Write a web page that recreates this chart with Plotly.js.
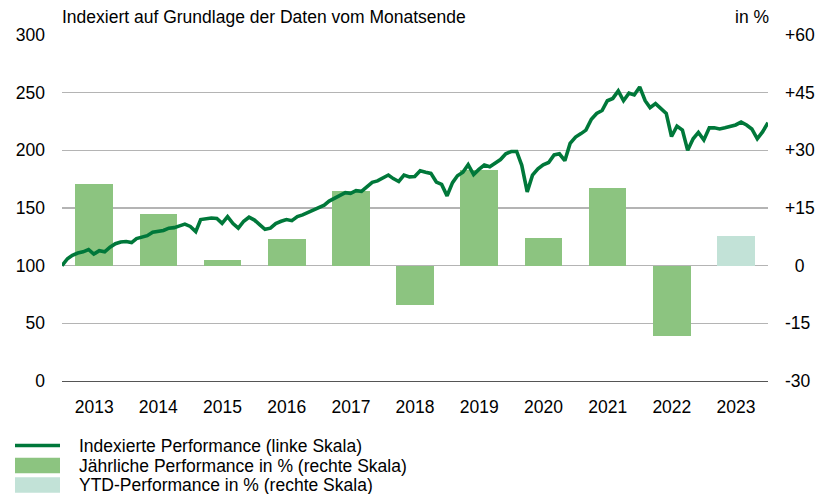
<!DOCTYPE html>
<html>
<head>
<meta charset="utf-8">
<script src="https://cdn.plot.ly/plotly-3.0.1.min.js"></script>
<style>html,body{margin:0;padding:0;background:#fff;} #chart{width:821px;height:494px;}</style>
</head>
<body>
<div id="chart"></div>
<script>
// ---------- DATA ----------
const years = ['2013','2014','2015','2016','2017','2018','2019','2020','2021','2022','2023'];
const annualPerf = [21.2, 13.4, 1.5, 6.9, 19.4, -10.2, 24.9, 7.2, 20.2, -18.3, null]; // % (right scale)
const ytdPerf    = [null, null, null, null, null, null, null, null, null, null, 7.7];  // % (right scale)
// month-end index values from Dec 2012 to Dec 2023 (left scale)
const indexed = [
  100, 106, 109, 111, 112, 114, 110, 113, 112, 116, 119, 120.5, 121,
  120, 123.5, 124.5, 126, 129, 129.5, 130.5, 132.5, 133, 134.5, 136, 134,
  129.5, 140, 141, 141.3, 141, 136.7, 142.5, 136.5, 132.5, 138.5, 142, 139.5,
  135.3, 131.5, 132.5, 136.5, 138.5, 140, 139, 142.5, 144, 146, 148.5, 150.5,
  152.5, 156, 158.5, 161.5, 163.3, 162.7, 165, 164.5, 168.5, 172.3, 173.5, 175.7,
  178.6, 175.5, 173, 178.5, 177, 177.3, 182.3, 181, 180, 172.5, 170.5, 160.5,
  172, 178, 181, 187.5, 179, 183.5, 187.3, 185.8, 189, 192, 197, 199,
  199, 187, 164, 178.5, 184, 187.5, 189.5, 196, 197, 191, 206, 211.5,
  214.5, 217.5, 227, 232, 234.5, 243, 245, 251.5, 243, 249.5, 248, 255,
  243, 237, 240.5, 236, 232, 212, 221, 217.5, 200, 210, 215.5, 209,
  219.5, 219.5, 218.5, 219.5, 220.5, 222, 224.5, 222, 218.5, 210, 216, 224
];
const leftTicks  = [0, 50, 100, 150, 200, 250, 300];
const rightTicks = [-30, -15, 0, 15, 30, 45, 60];
const rightTickText = ['-30', '-15', '\u20070', '+15', '+30', '+45', '+60'];
const legendLabels = ['Indexierte Performance (linke Skala)', 'Jährliche Performance in % (rechte Skala)', 'YTD-Performance in % (rechte Skala)'];
const titleText = 'Indexiert auf Grundlage der Daten vom Monatsende';
const unitText = 'in %';

// ---------- DERIVED X POSITIONS ----------
const monthDates = indexed.map((v, k) => Date.UTC(2013, k, 0));
const yearMid = years.map(y => Date.UTC(+y, 6, 2));
const yearMs = 365.25 * 864e5;

// ---------- STYLE ----------
const FONT = 'Liberation Sans, Arial, sans-serif';
const FS = 17.5;
const cLine = '#00783A', cBar = '#8CC480', cYtd = '#C2E2D7', cGrid = '#B4B4B4';
const W = 821, H = 494, ML = 62, MR = 53, MT = 35, MB = 113;
const PW = W - ML - MR, PH = H - MT - MB;
const px = x => (x - ML) / PW;
const py = y => (H - MB - y) / PH;

const traces = [
  { type: 'bar', x: yearMid, y: annualPerf, width: yearMid.map(() => 0.585 * yearMs),
    marker: { color: cBar, line: { width: 0 } }, yaxis: 'y', showlegend: false, hoverinfo: 'y' },
  { type: 'bar', x: yearMid, y: ytdPerf, width: yearMid.map(() => 0.585 * yearMs),
    marker: { color: cYtd, line: { width: 0 } }, yaxis: 'y', showlegend: false, hoverinfo: 'y' },
  { type: 'scatter', mode: 'lines', x: monthDates, y: indexed, yaxis: 'y2',
    line: { color: cLine, width: 3.6, shape: 'linear' }, showlegend: false, cliponaxis: false }
];

// custom legend
const rows = [445.5, 465.5, 485];
const shapes = [
  { type: 'line', xref: 'paper', yref: 'paper', x0: px(15), x1: px(60), y0: py(rows[0]), y1: py(rows[0]),
    line: { color: cLine, width: 3.6 } },
  { type: 'rect', xref: 'paper', yref: 'paper', x0: px(15), x1: px(60), y0: py(rows[1] - 7.8), y1: py(rows[1] + 7.8),
    fillcolor: cBar, line: { width: 0 } },
  { type: 'rect', xref: 'paper', yref: 'paper', x0: px(15), x1: px(60), y0: py(rows[2] - 7.8), y1: py(rows[2] + 7.8),
    fillcolor: cYtd, line: { width: 0 } }
];
const annotations = legendLabels.map((t, i) => ({
  text: t, xref: 'paper', yref: 'paper', x: px(77), y: py(rows[i]), xanchor: 'left', yanchor: 'middle',
  showarrow: false, font: { family: FONT, size: FS, color: '#000' }
}));
annotations.push({ text: titleText, xref: 'paper', yref: 'paper', x: px(60), y: py(17), xanchor: 'left', yanchor: 'middle',
  showarrow: false, font: { family: FONT, size: FS, color: '#000' } });
annotations.push({ text: unitText, xref: 'paper', yref: 'paper', x: px(771), y: py(17), xanchor: 'right', yanchor: 'middle',
  showarrow: false, font: { family: FONT, size: FS, color: '#000' } });

const layout = {
  width: W, height: H,
  margin: { l: ML, r: MR, t: MT, b: MB, pad: 0 },
  paper_bgcolor: '#fff', plot_bgcolor: '#fff',
  font: { family: FONT, size: FS, color: '#000' },
  showlegend: false,
  barmode: 'overlay',
  bargap: 0,
  xaxis: {
    type: 'date',
    range: [Date.UTC(2012, 11, 31), Date.UTC(2023, 11, 31)],
    tickmode: 'array', tickvals: yearMid, ticktext: years,
    showgrid: false, zeroline: false, ticks: '',
    showline: true, linecolor: '#555555', linewidth: 1.2,
    ticklabelstandoff: 10,
    tickfont: { family: FONT, size: FS, color: '#000' },
    fixedrange: true
  },
  yaxis: {
    range: [-30, 60], side: 'right',
    tickmode: 'array', tickvals: rightTicks, ticktext: rightTickText,
    showgrid: true, gridcolor: cGrid, gridwidth: 1.2, zeroline: false,
    showline: false, ticks: '', ticklabelstandoff: 16,
    tickfont: { family: FONT, size: FS, color: '#000' },
    fixedrange: true
  },
  yaxis2: {
    range: [0, 300], side: 'left', overlaying: 'y',
    tickmode: 'array', tickvals: leftTicks,
    showgrid: false, zeroline: false, showline: false, ticks: '',
    ticklabelstandoff: 16,
    tickfont: { family: FONT, size: FS, color: '#000' },
    fixedrange: true
  },
  shapes: shapes,
  annotations: annotations
};

Plotly.newPlot('chart', traces, layout, { displayModeBar: false, staticPlot: true });
</script>
</body>
</html>
